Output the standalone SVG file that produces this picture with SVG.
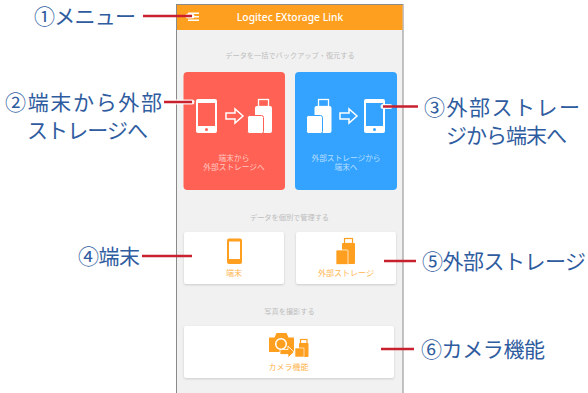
<svg xmlns="http://www.w3.org/2000/svg" width="588" height="393" viewBox="0 0 588 393">
<style>
text{font-family:"Noto Sans CJK JP","Noto Sans",sans-serif}
.c{font-size:21px;fill:#2f5c9f}
.h{font-size:7.2px;fill:#bdbdbd;text-anchor:middle}
.w{font-family:"Liberation Sans","Noto Sans CJK JP",sans-serif;font-size:7.7px;fill:#fff;fill-opacity:.65;text-anchor:middle}
.o{font-size:8px;fill:#ffb44d;text-anchor:middle}
.l{stroke:#c8202e;stroke-width:2.4;fill:none}
.halo{stroke:#fff;stroke-width:5;stroke-linecap:round;fill:none;opacity:.9}
.card{fill:#fff;filter:drop-shadow(0 1px 1px #ccc)}
.wi{fill:#fff}
.oi{fill:#ff9f1f}
</style>
<rect width="588" height="393" fill="#fff"/>
<g id="phone">
<rect x="176.500" y="4.500" width="226.500" height="395" fill="#f1f1f1" stroke="#8a8a8a" stroke-width="1"/>
<rect x="177" y="5" width="225.500" height="25" fill="#ff9f1f"/>
<text x="290" y="21" font-size="10.300" fill="#fff" text-anchor="middle" style="font-family:'Noto Sans',sans-serif;font-weight:500">Logitec EXtorage Link</text>
<rect x="188" y="12.500" width="11" height="1.500" fill="#fff"/><rect x="188" y="16" width="11" height="1.500" fill="#fff"/><rect x="188" y="19.500" width="11" height="1.500" fill="#fff"/>
<text x="290" y="58" class="h">データを一括でバックアップ・復元する</text>
<text x="289.500" y="220" class="h">データを個別で管理する</text>
<text x="289.500" y="314" class="h">写真を撮影する</text>
</g>
<g id="n2"><rect x="183.500" y="72" width="101.500" height="118" rx="4" fill="#ff6254"/>
<rect x="196" y="99" width="21" height="34" rx="2" class="wi"/><rect x="198" y="103" width="17" height="23" fill="#ff6254"/><circle cx="206.500" cy="129.500" r="1.500" fill="#ff6254"/>
<path d="M226 113h9v-4l8 7-8 7v-4h-9z" fill="none" stroke="#fff" stroke-width="1.500"/>
<rect x="258.500" y="99.500" width="10" height="7" fill="none" stroke="#fff" stroke-width="1.300"/><rect x="255" y="106" width="17" height="27" rx="2" class="wi"/>
<rect x="247.500" y="115.500" width="16" height="18" rx="2" class="wi" stroke="#ff6254"/>
<text x="234" y="160.500" class="w">端末から</text><text x="234" y="169.500" class="w">外部ストレージへ</text></g>
<g id="n3"><rect x="295" y="72" width="102" height="118" rx="4" fill="#33a3ff"/>
<rect x="364" y="99" width="21" height="34" rx="2" class="wi"/><rect x="366" y="103" width="17" height="23" fill="#33a3ff"/><circle cx="374.500" cy="129.500" r="1.500" fill="#33a3ff"/>
<path d="M340 113h9v-4l8 7-8 7v-4h-9z" fill="none" stroke="#fff" stroke-width="1.500"/>
<rect x="318.500" y="99.500" width="10" height="7" fill="none" stroke="#fff" stroke-width="1.300"/><rect x="314.500" y="106" width="17" height="27" rx="2" class="wi"/>
<rect x="306.500" y="115.500" width="16" height="18" rx="2" class="wi" stroke="#33a3ff"/>
<text x="346" y="160.500" class="w">外部ストレージから</text><text x="346" y="169.500" class="w">端末へ</text></g>
<g id="n4"><rect x="184" y="232" width="100" height="52" rx="2" class="card"/>
<rect x="227" y="238.500" width="15" height="25.500" rx="2" class="oi"/><rect x="229" y="241.500" width="11" height="17.500" fill="#fff"/>
<text x="234" y="276" class="o">端末</text></g>
<g id="n5"><rect x="296" y="232" width="100" height="52" rx="2" class="card"/>
<rect x="344.500" y="238.500" width="8" height="5" fill="none" stroke="#ff9f1f" stroke-width="1.200"/><rect x="342" y="243" width="13" height="21" rx="1" class="oi"/>
<rect x="336" y="250" width="12" height="14.500" rx="1" class="oi" stroke="#fff" stroke-width=".7"/>
<text x="346" y="276" class="o">外部ストレージ</text></g>
<g id="n6"><rect x="184" y="326" width="210" height="52" rx="2" class="card"/>
<path d="M269 337.500h5.500l2-4.500h10l2 4.500h5.500v14.500h-25z" class="oi"/><circle cx="281" cy="344" r="5.300" fill="none" stroke="#fff" stroke-width="1.500"/>
<path d="M280 349.500h8v-3.500l6 6-6 6v-3.500h-8z" class="oi" stroke="#fff" stroke-width=".8"/>
<rect x="300.500" y="339.500" width="6.500" height="4" fill="none" stroke="#ff9f1f" stroke-width="1.200"/><rect x="299" y="343" width="9.500" height="14" rx="1" class="oi"/>
<rect x="295" y="348" width="9" height="9" class="oi" stroke="#fff" stroke-width=".6"/>
<text x="288.500" y="370" class="o">カメラ機能</text></g>
<g id="connectors">
<path class="halo" d="M188 16H192M176 102H192M383 106.500H390M186 256H192M383 261H392M381 349H392"/>
<path class="l" d="M143 16H192M164 102H192M383 106.500H418M142 256H192M384 261H416M381 349H414"/>
</g>
<g id="labels">
<text x="34" y="24" class="c" textLength="102">①メニュー</text>
<text x="5" y="110" class="c" textLength="157">②端末から外部</text>
<text x="27" y="138" class="c" textLength="121">ストレージへ</text>
<text x="424" y="115" class="c" textLength="156">③外部ストレー</text>
<text x="446" y="143" class="c" textLength="121">ジから端末へ</text>
<text x="78" y="264" class="c" textLength="62">④端末</text>
<text x="422" y="269" class="c" textLength="164">⑤外部ストレージ</text>
<text x="421" y="357" class="c" textLength="124">⑥カメラ機能</text>
</g>
</svg>
